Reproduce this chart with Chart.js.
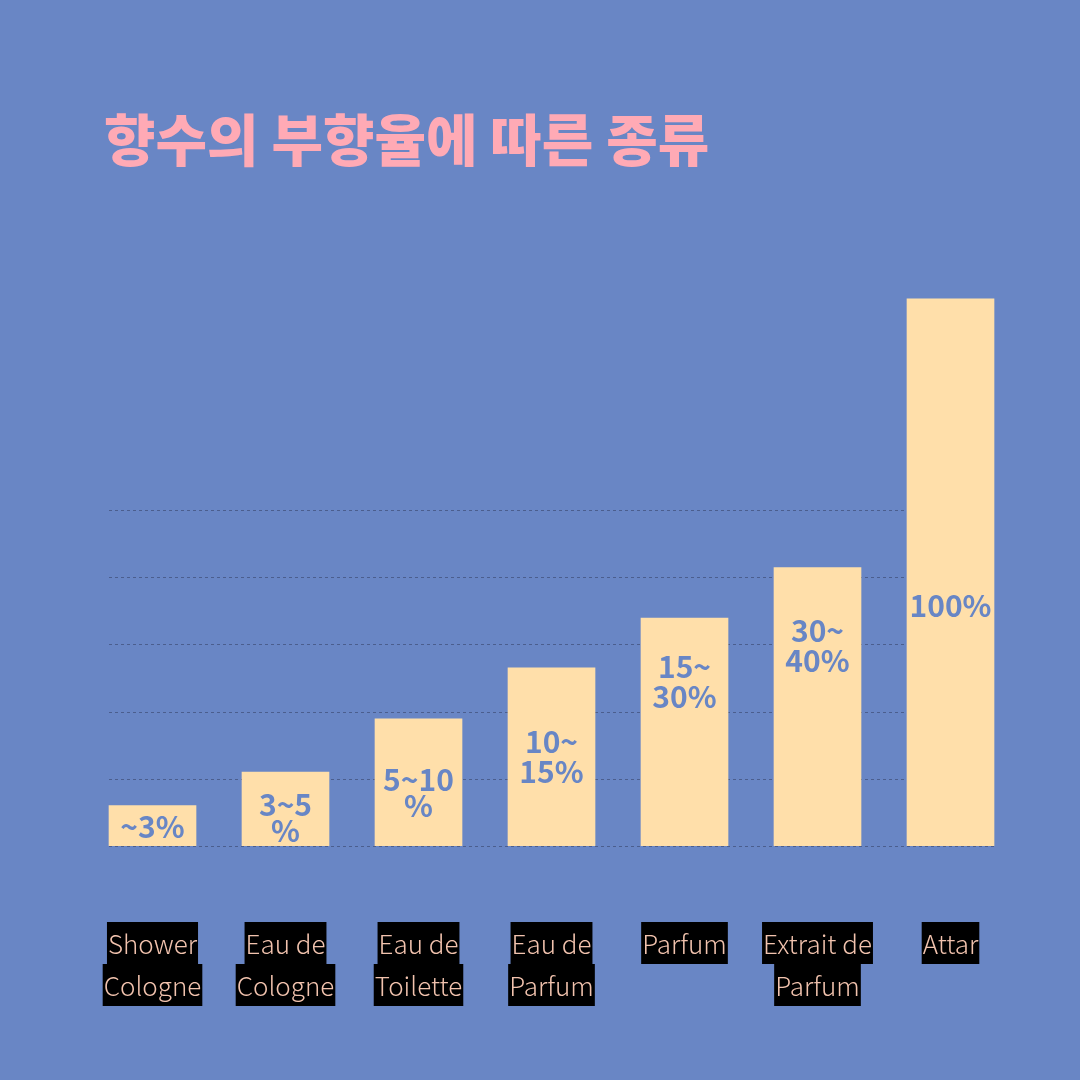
<!DOCTYPE html>
<html>
<head>
<meta charset="utf-8">
<script src="https://cdn.jsdelivr.net/npm/chart.js@4"></script>
<style>
  html, body { margin: 0; padding: 0; background: #6986C5; }
  #wrap { width: 1080px; height: 1080px; }
</style>
</head>
<body>
<div id="wrap"><canvas id="perfume_chart"></canvas></div>
<script>
const titleText = '향수의 부향율에 따른 종류';
const categories = [
    ['Shower', 'Cologne'],
    ['Eau de', 'Cologne'],
    ['Eau de', 'Toilette'],
    ['Eau de', 'Parfum'],
    ['Parfum'],
    ['Extrait de', 'Parfum'],
    ['Attar']
];
const concentration = [
    ['~3%'],
    ['3~5', '%'],
    ['5~10', '%'],
    ['10~', '15%'],
    ['15~', '30%'],
    ['30~', '40%'],
    ['100%']
];
const barValues = [6.0, 11.0, 18.9, 26.5, 33.9, 41.4, 81.4];
const gridTicks = [0, 10, 20, 30, 40, 50];

// where the label block sits inside each bar (fraction of bar height from the base)
const labelAnchor = [0.48, 0.38, 0.42, 0.5, 0.72, 0.72, 0.44];

const FONT = '"Noto Sans CJK KR", "Noto Sans", sans-serif';

const decorations = {
    id: 'decorations',
    beforeDatasetsDraw(chart) {
        const ctx = chart.ctx;
        const y = chart.scales.y;
        const bars = chart.getDatasetMeta(0).data;
        const first = bars[0], last = bars[bars.length - 1];
        const x0 = first.x - first.width / 2;
        const x1 = last.x + last.width / 2;
        ctx.save();
        ctx.strokeStyle = '#4B5E8E';
        ctx.lineWidth = 1;
        ctx.setLineDash([3, 3]);
        gridTicks.forEach(v => {
            const py = Math.round(y.getPixelForValue(v)) + 0.5;
            ctx.beginPath();
            ctx.moveTo(x0, py);
            ctx.lineTo(x1, py);
            ctx.stroke();
        });
        ctx.restore();
    },
    afterDatasetsDraw(chart) {
        const ctx = chart.ctx;
        const x = chart.scales.x;
        const bars = chart.getDatasetMeta(0).data;
        ctx.save();

        // values inside the bars
        ctx.fillStyle = '#6886C5';
        ctx.font = 'bold 30px ' + FONT;
        ctx.textAlign = 'center';
        ctx.textBaseline = 'middle';
        bars.forEach((bar, i) => {
            const lines = concentration[i];
            const lh = lines.length > 1 && lines[1] === '%' ? 26 : 30;
            const cy = bar.base - (bar.base - bar.y) * labelAnchor[i];
            lines.forEach((t, j) => {
                ctx.fillText(t, bar.x, cy + (j - (lines.length - 1) / 2) * lh);
            });
        });

        // category labels on black boxes
        ctx.font = '300 26px ' + FONT;
        categories.forEach((lines, i) => {
            const cx = x.getPixelForTick(i);
            lines.forEach((t, j) => {
                const w = ctx.measureText(t).width + 2;
                const top = 922 + j * 42;
                ctx.fillStyle = '#000000';
                ctx.fillRect(cx - w / 2, top, w, 42);
                ctx.fillStyle = '#F2C3AE';
                ctx.fillText(t, cx, top + 22);
            });
        });

        // title
        ctx.fillStyle = '#FFAAB5';
        ctx.font = '900 56px ' + FONT;
        ctx.textAlign = 'left';
        ctx.fillText(titleText, 104, 140);
        ctx.restore();
    }
};

const ctx = document.getElementById('perfume_chart').getContext('2d');

new Chart(ctx, {
    type: 'bar',
    data: {
        labels: categories,
        datasets: [{
            data: barValues,
            backgroundColor: '#FFDFAA',
            barThickness: 87
        }]
    },
    options: {
        responsive: true,
        maintainAspectRatio: false,
        animation: false,
        layout: {
            padding: { top: 241, bottom: 234, left: 86, right: 63 }
        },
        scales: {
            x: { display: false },
            y: { display: false, min: 0, max: 90 }
        },
        plugins: {
            legend: { display: false },
            tooltip: { enabled: false }
        }
    },
    plugins: [decorations]
});
</script>
</body>
</html>
